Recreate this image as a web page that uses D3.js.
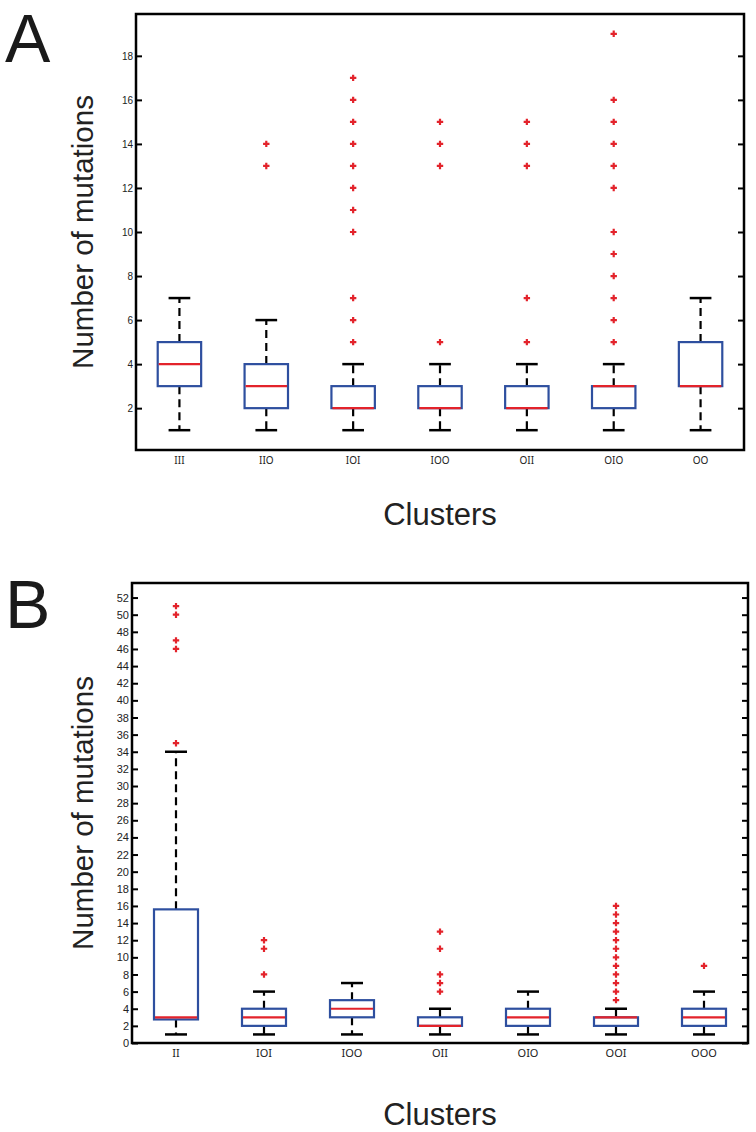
<!DOCTYPE html>
<html>
<head>
<meta charset="utf-8">
<script src="https://cdn.jsdelivr.net/npm/d3@7"></script>
<style>
  html, body { margin: 0; padding: 0; background: #fff; }
  svg { display: block; }
</style>
</head>
<body>
<svg id="chart" width="756" height="1132"></svg>
<script>
// ---- Panel A data ----
const categoriesA = ["III", "IIO", "IOI", "IOO", "OII", "OIO", "OO"];
const whiskerLowA = [1, 1, 1, 1, 1, 1, 1];
const q1A         = [3, 2, 2, 2, 2, 2, 3];
const medianA     = [4, 3, 2, 2, 2, 3, 3];
const q3A         = [5, 4, 3, 3, 3, 3, 5];
const whiskerHighA= [7, 6, 4, 4, 4, 4, 7];
const outliersA = [
  [],
  [13, 14],
  [5, 6, 7, 10, 11, 12, 13, 14, 15, 16, 17],
  [5, 13, 14, 15],
  [5, 7, 13, 14, 15],
  [5, 6, 7, 8, 9, 10, 12, 13, 14, 15, 16, 19],
  []
];
const yTicksA = [2, 4, 6, 8, 10, 12, 14, 16, 18];

// ---- Panel B data ----
const categoriesB = ["II", "IOI", "IOO", "OII", "OIO", "OOI", "OOO"];
const whiskerLowB = [1, 1, 1, 1, 1, 1, 1];
const q1B         = [2.75, 2, 3, 2, 2, 2, 2];
const medianB     = [3, 3, 4, 2, 3, 3, 3];
const q3B         = [15.6, 4, 5, 3, 4, 3, 4];
const whiskerHighB= [34, 6, 7, 4, 6, 4, 6];
const outliersB = [
  [35, 46, 47, 50, 51],
  [8, 11, 12],
  [],
  [6, 7, 8, 11, 13],
  [],
  [5, 6, 7, 8, 9, 10, 11, 12, 13, 14, 15, 16],
  [9]
];
const yTicksB = d3.range(0, 53, 2);

const BLUE = "#2e4f9f";
const RED = "#e3232b";
const SANS = "'Liberation Sans', Arial, sans-serif";
const ROUND = "'Noto Sans', 'Liberation Sans', sans-serif";

const svg = d3.select("#chart");

function panel(cfg) {
  const { left, right, top, bottom, yDomain, cats, lo, q1, med, q3, hi, outs, ticks,
          tickFont, xFont, xLabelY, letter, letterY, clustersY } = cfg;
  const x = d3.scaleBand().domain(cats).range([left, right]).paddingInner(0).paddingOuter(0);
  const y = d3.scaleLinear().domain(yDomain).range([bottom, top]);
  const g = svg.append("g");
  const bw = x.bandwidth() * 0.5;
  const cw = x.bandwidth() * 0.25;

  // left axis
  const axL = d3.axisLeft(y).tickValues(ticks).tickSize(-6).tickPadding(4).tickFormat(d3.format("d"));
  const gl = g.append("g").attr("transform", `translate(${left},0)`).call(axL);
  gl.attr("font-family", null);
  gl.select(".domain").remove();
  gl.selectAll(".tick line").attr("stroke", "#000").attr("stroke-width", 2);
  gl.selectAll(".tick text").style("font-family", SANS)
    .style("font-size", tickFont + "px").attr("fill", "#222").attr("x", -3);
  // right axis ticks
  const axR = d3.axisRight(y).tickValues(ticks).tickSize(-6).tickFormat("");
  const gr = g.append("g").attr("transform", `translate(${right},0)`).call(axR);
  gr.select(".domain").remove();
  gr.selectAll(".tick line").attr("stroke", "#000").attr("stroke-width", 2);

  // bottom category labels
  const axB = d3.axisBottom(x).tickSize(0).tickPadding(0);
  const gb = g.append("g").attr("transform", `translate(0,${bottom})`).call(axB);
  gb.attr("font-family", null);
  gb.select(".domain").remove();
  gb.selectAll(".tick text").style("font-family", ROUND)
    .style("font-size", xFont + "px").attr("fill", "#222").attr("y", xLabelY).attr("dy", 0);

  const items = cats.map((c, i) => ({ c, lo: lo[i], q1: q1[i], med: med[i], q3: q3[i], hi: hi[i], outs: outs[i] }));
  const bx = g.selectAll("g.box").data(items).join("g").attr("class", "box");
  const cx = d => x(d.c) + x.bandwidth() / 2;

  // whiskers (dashed)
  bx.append("line").attr("x1", cx).attr("x2", cx)
    .attr("y1", d => y(d.q3)).attr("y2", d => y(d.hi))
    .attr("stroke", "#000").attr("stroke-width", 2.2).attr("stroke-dasharray", "8,5");
  bx.append("line").attr("x1", cx).attr("x2", cx)
    .attr("y1", d => y(d.q1)).attr("y2", d => y(d.lo))
    .attr("stroke", "#000").attr("stroke-width", 2.2).attr("stroke-dasharray", "8,5");
  // caps
  bx.append("line").attr("x1", d => cx(d) - cw / 2).attr("x2", d => cx(d) + cw / 2)
    .attr("y1", d => y(d.hi)).attr("y2", d => y(d.hi)).attr("stroke", "#000").attr("stroke-width", 2.5);
  bx.append("line").attr("x1", d => cx(d) - cw / 2).attr("x2", d => cx(d) + cw / 2)
    .attr("y1", d => y(d.lo)).attr("y2", d => y(d.lo)).attr("stroke", "#000").attr("stroke-width", 2.5);
  // box
  bx.append("rect").attr("x", d => cx(d) - bw / 2).attr("width", bw)
    .attr("y", d => y(d.q3)).attr("height", d => y(d.q1) - y(d.q3))
    .attr("fill", "#fff").attr("stroke", BLUE).attr("stroke-width", 2.2);
  // median
  bx.append("line").attr("x1", d => cx(d) - bw / 2 + 1).attr("x2", d => cx(d) + bw / 2 - 1)
    .attr("y1", d => y(d.med)).attr("y2", d => y(d.med)).attr("stroke", RED).attr("stroke-width", 2.2);
  // outliers
  bx.each(function (d) {
    const sel = d3.select(this);
    d.outs.forEach(v => {
      const px = cx(d), py = y(v), s = 3.2;
      sel.append("path").attr("d", `M${px - s},${py}H${px + s}M${px},${py - s}V${py + s}`)
        .attr("stroke", RED).attr("stroke-width", 2.2).attr("fill", "none");
    });
  });

  // frame
  g.append("rect").attr("x", left).attr("y", top).attr("width", right - left).attr("height", bottom - top)
    .attr("fill", "none").attr("stroke", "#000").attr("stroke-width", 2.5);

  // y label
  g.append("text").attr("transform", `translate(93,${(top + bottom) / 2}) rotate(-90)`)
    .attr("text-anchor", "middle").style("font-family", SANS)
    .style("font-size", "29.5px").attr("fill", "#222").text("Number of mutations");
  // x label
  g.append("text").attr("x", (left + right) / 2).attr("y", clustersY)
    .attr("text-anchor", "middle").style("font-family", SANS)
    .style("font-size", "31px").attr("fill", "#222").text("Clusters");
  // panel letter
  g.append("text").attr("x", 5).attr("y", letterY)
    .style("font-family", SANS)
    .style("font-size", "68px").attr("fill", "#1a1a1a").text(letter);
}

panel({
  left: 136, right: 744, top: 14, bottom: 450, yDomain: [0.1, 19.9],
  cats: categoriesA, lo: whiskerLowA, q1: q1A, med: medianA, q3: q3A, hi: whiskerHighA, outs: outliersA,
  ticks: yTicksA, tickFont: 10, xFont: 10, xLabelY: 14, letter: "A", letterY: 62, clustersY: 525
});

panel({
  left: 132, right: 748, top: 583, bottom: 1043, yDomain: [0, 53.7],
  cats: categoriesB, lo: whiskerLowB, q1: q1B, med: medianB, q3: q3B, hi: whiskerHighB, outs: outliersB,
  ticks: yTicksB, tickFont: 11, xFont: 11, xLabelY: 14, letter: "B", letterY: 628, clustersY: 1125
});
</script>
</body>
</html>
